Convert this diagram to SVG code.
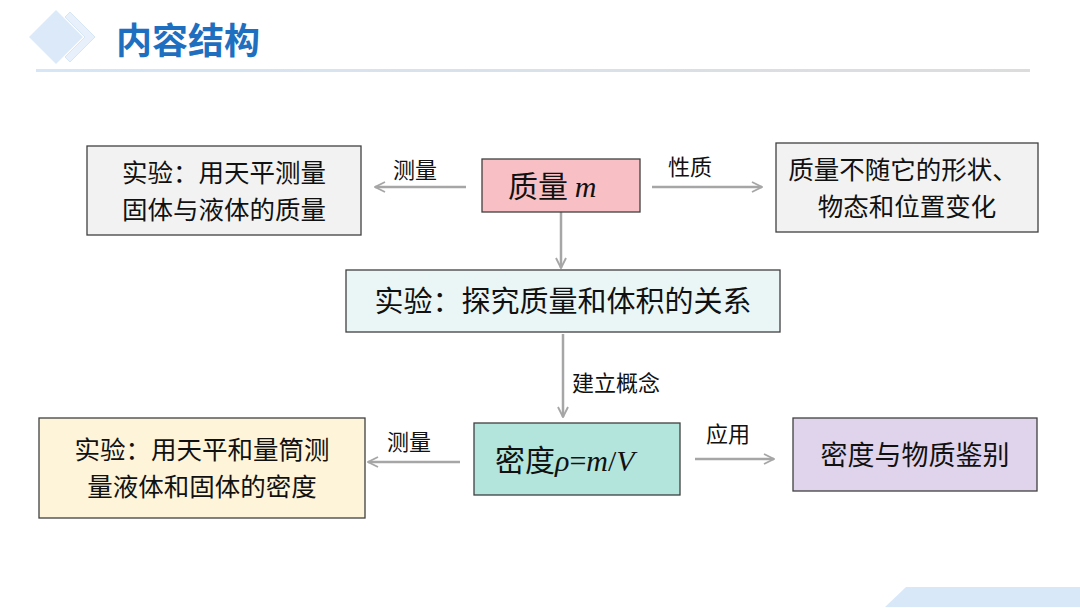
<svg xmlns="http://www.w3.org/2000/svg" width="1080" height="608" viewBox="0 0 1080 608">
<defs>
<style>
.t{font-family:"Noto Sans CJK SC","Noto Sans",sans-serif;fill:#111}
.b{font-size:27px}
.b2{font-size:25.5px}
.l{font-size:22px}
.c{stroke:#a6a6a6;stroke-width:2.5;fill:none;marker-end:url(#a)}
.n{stroke:#404040;stroke-width:1.3}
.m{font-family:"Liberation Serif",serif;font-style:italic}
</style>
<marker id="a" viewBox="0 0 10 10" refX="9" refY="5" markerWidth="5" markerHeight="5" orient="auto"><path d="M1,1 L9,5 L1,9" fill="none" stroke="#a6a6a6" stroke-width="1.5"/></marker>
<linearGradient id="g" x1="0" x2="1"><stop offset="0" stop-color="#d6e6f7"/><stop offset="1" stop-color="#dcdcdc"/></linearGradient>
</defs>
<rect width="1080" height="608" fill="#fff"/>
<g id="header">
<polygon points="56,10 83,37 56,64 29,37" fill="#dbe9f8"/>
<polygon points="70,12 95,37 70,62 65,57 85,37 65,17" fill="#e8f1fb" stroke="#d7e6f5"/>
<text x="116" y="54" font-family="Noto Sans CJK SC,sans-serif" font-weight="bold" font-size="36" fill="#1f6fc0">内容结构</text>
<rect x="36" y="69" width="994" height="3" fill="url(#g)"/>
<polygon points="885,607 906,587 1080,587 1080,607" fill="#d9e8f9"/>
</g>
<g id="connectors">
<line class="c" x1="466" y1="187" x2="375" y2="187"/>
<line class="c" x1="652" y1="187" x2="762" y2="187"/>
<line class="c" x1="561" y1="212" x2="561" y2="268"/>
<line class="c" x1="563" y1="334" x2="563" y2="417"/>
<line class="c" x1="460" y1="462" x2="368" y2="462"/>
<line class="c" x1="695" y1="459" x2="774" y2="459"/>
<text class="t l" x="393" y="178">测量</text>
<text class="t l" x="668" y="175">性质</text>
<text class="t l" x="572" y="391">建立概念</text>
<text class="t l" x="387" y="450">测量</text>
<text class="t l" x="706" y="442">应用</text>
</g>
<g id="n1"><rect class="n" x="87" y="146" width="274" height="89" fill="#f2f2f2"/><text class="t b2" x="224" y="182" text-anchor="middle">实验：用天平测量</text><text class="t b2" x="224" y="219" text-anchor="middle">固体与液体的质量</text></g>
<g id="n2"><rect class="n" x="482" y="159" width="158" height="53" fill="#f8c0c4"/><text class="t" font-size="30" x="508" y="197">质量 <tspan class="m">m</tspan></text></g>
<g id="n3"><rect class="n" x="776" y="143" width="262" height="89" fill="#f2f2f2"/><text class="t b2" x="903" y="179" text-anchor="middle">质量不随它的形状、</text><text class="t b2" x="907" y="216" text-anchor="middle">物态和位置变化</text></g>
<g id="n4"><rect class="n" x="346" y="270" width="434" height="62" fill="#eaf6f5"/><text class="t" font-size="29" x="563" y="312" text-anchor="middle">实验：探究质量和体积的关系</text></g>
<g id="n5"><rect class="n" x="39" y="418" width="326" height="100" fill="#fdf4d9"/><text class="t b2" x="202" y="459" text-anchor="middle">实验：用天平和量筒测</text><text class="t b2" x="202" y="496" text-anchor="middle">量液体和固体的密度</text></g>
<g id="n6"><rect class="n" x="474" y="423" width="206" height="72" fill="#b3e5dc"/><text class="t" font-size="30" x="495" y="471">密度<tspan class="m">ρ</tspan><tspan font-family="Liberation Serif,serif">=</tspan><tspan class="m">m</tspan><tspan font-family="Liberation Serif,serif">/</tspan><tspan class="m">V</tspan></text></g>
<g id="n7"><rect class="n" x="793" y="418" width="244" height="73" fill="#e0d4ec"/><text class="t b" x="915" y="465" text-anchor="middle">密度与物质鉴别</text></g>
</svg>
